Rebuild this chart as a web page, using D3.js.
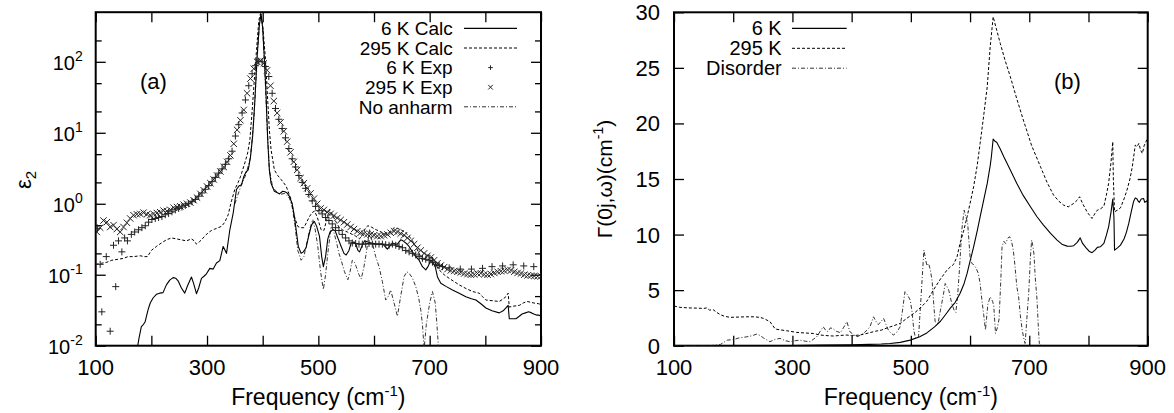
<!DOCTYPE html>
<html><head><meta charset="utf-8">
<script src="https://cdn.jsdelivr.net/npm/d3@7"></script>
<style>
body{margin:0;background:#fff}
text{font-family:"Liberation Sans",Arial,Helvetica,sans-serif;fill:#000}
</style>
</head><body>
<svg id="chart" width="1174" height="413"></svg>
<script>
// ---------- Panel (a): epsilon_2 ----------
const calc6K = [[175,0.0095],[178,0.013],[182,0.0186],[186,0.020],[189,0.022],[194,0.032],[198,0.040],[203,0.047],[209,0.053],[215,0.055],[221,0.056],[227,0.072],[233,0.084],[239,0.091],[244,0.089],[248,0.082],[254,0.065],[260,0.055],[265,0.07],[272,0.093],[276,0.075],[281,0.054],[285,0.065],[290,0.089],[295,0.096],[299,0.103],[305,0.123],[311,0.12],[317,0.146],[323,0.158],[329,0.25],[335,0.20],[341,0.43],[347,0.74],[353,1.6],[358,1.8],[362,1.86],[366,2.4],[370,2.8],[374,3.0],[378,4.5],[382,9],[386,29],[390,120],[394,330],[397,470],[400,300],[403,110],[406,35],[409,8],[412,3.0],[415,1.95],[421,1.5],[430,1.38],[436,1.5],[440,1.48],[444,1.42],[448,1.27],[453,1.0],[457,0.66],[461,0.38],[464,0.25],[469,0.20],[473,0.21],[478,0.24],[483,0.36],[487,0.48],[490,0.54],[493,0.56],[497,0.48],[502,0.35],[506,0.18],[509,0.13],[513,0.18],[517,0.32],[521,0.40],[526,0.43],[530,0.42],[535,0.33],[541,0.25],[546,0.20],[550,0.19],[555,0.22],[559,0.28],[564,0.29],[568,0.26],[571,0.22],[574,0.21],[578,0.25],[583,0.30],[589,0.29],[595,0.28],[605,0.27],[616,0.27],[624,0.23],[628,0.25],[633,0.28],[638,0.27],[642,0.27],[648,0.31],[652,0.30],[657,0.28],[663,0.25],[669,0.21],[675,0.18],[681,0.16],[687,0.13],[693,0.117],[697,0.13],[702,0.16],[706,0.15],[710,0.13],[714,0.093],[720,0.076],[730,0.068],[741,0.061],[753,0.055],[765,0.049],[775,0.046],[783,0.044],[792,0.039],[801,0.034],[812,0.031],[825,0.029],[832,0.031],[837,0.034],[841,0.037],[843,0.024],[849,0.024],[855,0.024],[861,0.026],[866,0.028],[872,0.029],[878,0.030],[883,0.029],[887,0.028],[892,0.027],[896,0.027],[900,0.026]];

const calc295K = [[100,0.14],[110,0.145],[120,0.15],[129,0.16],[140,0.165],[150,0.17],[158,0.18],[168,0.18],[180,0.185],[187,0.18],[193,0.18],[200,0.22],[209,0.25],[218,0.28],[227,0.31],[236,0.33],[245,0.32],[254,0.31],[263,0.30],[272,0.32],[277,0.30],[281,0.27],[286,0.29],[290,0.31],[296,0.35],[302,0.39],[308,0.42],[314,0.44],[320,0.46],[326,0.48],[332,0.55],[338,0.70],[344,1.1],[350,1.6],[356,2.0],[360,2.4],[364,3.0],[369,4.0],[373,5.2],[377,8],[381,20],[385,56],[389,150],[393,380],[396,480],[400,330],[405,110],[408,40],[412,11],[415,5.8],[421,3.0],[427,2.5],[433,2.2],[442,1.78],[447,1.4],[451,1.15],[457,0.66],[463,0.48],[468,0.46],[474,0.46],[479,0.55],[484,0.66],[489,0.75],[493,0.79],[498,0.65],[505,0.43],[510,0.42],[515,0.6],[520,0.83],[525,0.7],[532,0.55],[537,0.47],[543,0.43],[552,0.40],[561,0.37],[567,0.35],[574,0.32],[580,0.38],[585,0.46],[589,0.49],[595,0.47],[604,0.43],[613,0.40],[622,0.37],[628,0.40],[636,0.46],[642,0.45],[648,0.43],[655,0.40],[663,0.35],[669,0.30],[675,0.25],[681,0.20],[687,0.16],[693,0.17],[699,0.19],[704,0.18],[708,0.16],[712,0.135],[717,0.117],[726,0.10],[735,0.089],[744,0.080],[753,0.072],[765,0.064],[777,0.058],[789,0.055],[795,0.049],[801,0.044],[813,0.043],[825,0.042],[831,0.045],[837,0.049],[841,0.055],[843,0.035],[850,0.036],[861,0.037],[868,0.040],[875,0.042],[881,0.041],[887,0.040],[896,0.039],[900,0.038]];

const exp6K = [[103,0.45],[108,0.14],[111,0.030],[119,0.18],[126,0.016],[132,0.26],[136,0.068],[141,0.30],[147,0.21],[152,0.33],[157,0.30],[164,0.37],[170,0.40],[177,0.43],[183,0.46],[189,0.49],[195,0.55],[201,0.60],[207,0.62],[213,0.64],[219,0.66],[225,0.70],[231,0.73],[237,0.77],[243,0.82],[249,0.86],[255,0.90],[261,0.95],[267,1.0],[273,1.07],[279,1.15],[285,1.28],[291,1.42],[297,1.6],[303,1.8],[309,2.05],[315,2.35],[321,2.7],[327,3.1],[333,3.6],[339,4.3],[345,5.5],[351,9],[357,13],[363,19],[369,29],[375,46],[381,68],[387,88],[393,102],[399,100],[405,86],[411,62],[417,36],[423,22],[429,15.5],[435,11.5],[441,8.5],[447,6.0],[453,4.3],[459,3.3],[465,2.5],[471,2.0],[477,1.65],[483,1.35],[489,1.1],[495,0.92],[501,0.80],[507,0.72],[513,0.64],[519,0.58],[525,0.52],[531,0.46],[537,0.42],[543,0.37],[549,0.33],[555,0.30],[561,0.28],[567,0.275],[573,0.27],[579,0.27],[585,0.27],[591,0.275],[597,0.27],[603,0.27],[609,0.27],[615,0.27],[621,0.265],[627,0.26],[633,0.27],[639,0.26],[645,0.25],[651,0.24],[657,0.22],[663,0.21],[669,0.20],[675,0.19],[681,0.18],[687,0.17],[693,0.165],[699,0.16],[705,0.15],[711,0.14],[717,0.135],[723,0.13],[735,0.125],[755,0.12],[775,0.12],[795,0.123],[812,0.13],[831,0.133],[850,0.138],[869,0.133],[887,0.13]];

const exp295K = [[102,0.40],[108,0.46],[114,0.58],[120,0.55],[126,0.47],[132,0.50],[138,0.44],[144,0.40],[150,0.47],[156,0.54],[162,0.62],[168,0.69],[174,0.71],[180,0.72],[186,0.75],[192,0.71],[198,0.69],[204,0.72],[210,0.74],[216,0.76],[222,0.80],[228,0.79],[234,0.82],[240,0.88],[246,0.90],[252,0.92],[258,0.97],[264,1.00],[270,1.04],[276,1.12],[282,1.22],[288,1.38],[294,1.55],[300,1.75],[306,1.95],[312,2.2],[318,2.5],[324,2.85],[330,3.3],[336,3.9],[342,4.8],[348,7.0],[354,11],[360,15],[366,21],[372,36],[378,58],[384,80],[390,100],[396,104],[402,95],[408,76],[414,46],[420,28],[426,19],[432,14],[438,10.5],[444,7.5],[450,5.3],[456,3.9],[462,3.0],[468,2.3],[474,1.95],[480,1.65],[486,1.40],[492,1.18],[498,1.00],[504,0.86],[510,0.82],[516,0.76],[522,0.72],[528,0.68],[534,0.63],[540,0.59],[546,0.55],[552,0.51],[558,0.47],[564,0.44],[570,0.41],[576,0.39],[582,0.38],[588,0.37],[594,0.37],[600,0.36],[606,0.35],[612,0.35],[618,0.36],[624,0.37],[630,0.39],[636,0.41],[642,0.40],[648,0.38],[654,0.36],[660,0.33],[666,0.30],[672,0.27],[678,0.24],[684,0.22],[690,0.20],[696,0.185],[702,0.175],[708,0.16],[714,0.145],[720,0.135],[726,0.128],[732,0.12],[738,0.115],[744,0.113],[750,0.11],[756,0.108],[762,0.104],[768,0.102],[774,0.10],[780,0.101],[786,0.104],[792,0.105],[798,0.101],[804,0.10],[810,0.102],[816,0.106],[822,0.11],[828,0.112],[834,0.114],[840,0.117],[846,0.115],[852,0.11],[858,0.106],[864,0.104],[870,0.10],[876,0.098],[882,0.097],[888,0.096],[894,0.095],[900,0.095]];

const noAnharm = [[350,1.0],[360,1.7],[370,2.6],[378,4.5],[384,15],[390,110],[394,330],[397,470],[400,300],[404,70],[408,12],[412,3.0],[418,1.7],[430,1.35],[440,1.4],[448,1.2],[453,0.9],[458,0.5],[463,0.22],[469,0.16],[474,0.18],[480,0.30],[485,0.45],[490,0.60],[494,0.45],[499,0.25],[504,0.11],[509,0.062],[513,0.10],[517,0.20],[523,0.48],[527,0.42],[532,0.30],[537,0.20],[541,0.16],[547,0.11],[553,0.085],[557,0.11],[561,0.16],[565,0.15],[568,0.13],[573,0.10],[577,0.087],[582,0.13],[586,0.20],[592,0.43],[597,0.28],[603,0.18],[609,0.13],[615,0.08],[621,0.044],[626,0.05],[630,0.061],[636,0.04],[642,0.026],[647,0.045],[654,0.094],[659,0.11],[663,0.105],[669,0.09],[675,0.068],[680,0.048],[684,0.032],[687,0.02],[690,0.009],[694,0.02],[700,0.040],[705,0.058],[710,0.04],[713,0.02],[716,0.009],[720,0.005]];

// ---------- Panel (b): Gamma(0j,omega) ----------
const gamma6K = [[100,0],[200,0],[300,0.02],[350,0.05],[400,0.08],[430,0.12],[450,0.15],[465,0.2],[482,0.3],[499,0.5],[515,0.8],[527,1.15],[540,1.7],[550,2.2],[560,2.9],[567,3.4],[575,3.9],[583,4.7],[590,5.6],[595,6.5],[600,7.6],[606,8.9],[612,10.3],[617,11.6],[623,13.1],[629,14.6],[634,16.2],[636,17.0],[639,18.6],[642,18.4],[645,18.3],[651,17.7],[657,17.0],[668,15.8],[679,14.6],[690,13.5],[702,12.5],[713,11.6],[724,10.85],[736,10.1],[747,9.5],[756,9.1],[764,8.96],[770,8.95],[775,9.0],[781,9.3],[786,9.7],[790,9.2],[796,8.8],[801,8.5],[806,8.37],[811,8.6],[815,8.85],[820,8.9],[826,9.2],[830,9.9],[834,10.7],[838,12.0],[841,13.2],[843,11.5],[844,8.6],[849,8.8],[854,9.05],[860,9.6],[864,10.2],[868,11.0],[872,12.0],[876,12.95],[879,13.3],[882,13.2],[884,13.0],[886,12.9],[889,13.2],[893,13.25],[895,12.9],[898,13.0],[900,13.1]];

const gamma295K = [[100,3.57],[110,3.45],[125,3.4],[140,3.38],[150,3.35],[155,3.4],[160,3.2],[166,3.25],[172,3.0],[178,2.8],[185,2.65],[195,2.55],[210,2.58],[223,2.6],[235,2.6],[245,2.55],[251,2.46],[257,2.3],[262,2.16],[267,1.8],[271,1.5],[280,1.42],[290,1.35],[307,1.2],[320,1.15],[335,1.1],[347,0.96],[360,0.9],[369,0.87],[380,0.92],[392,0.96],[400,0.9],[414,0.96],[426,1.11],[440,1.3],[450,1.4],[460,1.6],[471,1.8],[482,2.0],[493,2.46],[505,2.9],[516,3.4],[527,4.0],[538,5.0],[550,6.0],[561,6.8],[567,7.1],[572,7.3],[578,8.0],[583,9.2],[589,10.3],[595,11.6],[600,12.8],[606,14.3],[612,16.2],[617,18.2],[623,20.7],[629,23.3],[634,26.9],[637,28.5],[639,29.6],[645,28.4],[651,27.2],[659,25.7],[668,24.2],[679,22.2],[690,20.3],[704,18.0],[719,16.1],[730,14.7],[741,13.55],[750,13.0],[758,12.65],[766,12.5],[775,12.8],[781,13.1],[785,13.4],[790,12.8],[798,12.0],[806,11.45],[811,11.9],[815,12.2],[820,12.3],[826,12.55],[830,13.5],[834,14.6],[838,16.5],[841,18.35],[842,15],[844,12.05],[849,12.2],[854,12.4],[860,13.2],[865,14.0],[870,15.0],[874,16.1],[879,18.05],[882,17.9],[885,18.2],[888,17.6],[891,17.3],[894,18.0],[897,18.35],[900,18.7]];

const disorder = [[100,0],[160,0],[178,0.1],[190,0.5],[200,0.55],[210,0.7],[223,0.8],[232,0.9],[240,1.05],[246,0.9],[251,0.7],[262,0.36],[270,0.55],[279,0.66],[288,0.45],[296,0.36],[305,0.45],[313,0.5],[322,0.4],[330,0.36],[336,0.6],[341,0.8],[347,1.3],[352,1.7],[356,1.4],[360,1.26],[364,1.6],[368,1.55],[374,1.3],[381,1.17],[386,1.6],[392,2.16],[397,1.26],[403,1.0],[409,0.8],[415,0.95],[420,1.11],[426,1.4],[431,1.71],[437,2.6],[441,2.2],[445,1.9],[450,2.2],[454,2.46],[458,1.9],[462,1.41],[467,1.1],[471,0.96],[476,1.2],[482,1.71],[486,3.2],[490,4.86],[494,4.6],[499,4.1],[502,3.06],[505,1.4],[508,0.66],[513,0.8],[517,4.2],[522,8.6],[527,7.2],[530,7.4],[533,6.8],[536,5.8],[539,3.5],[541,2.16],[546,2.0],[550,3.2],[555,4.6],[558,5.6],[561,5.3],[564,5.0],[567,4.3],[569,3.8],[573,3.2],[576,3.0],[579,4.5],[582,6.8],[586,10.4],[590,12.2],[593,11.6],[596,11.0],[600,8.0],[603,7.4],[606,7.3],[610,7.0],[614,6.5],[617,5.6],[620,4.1],[623,2.8],[626,1.41],[630,3.7],[634,4.4],[638,4.0],[640,3.6],[643,1.11],[646,1.6],[649,2.4],[652,6.0],[654,8.9],[657,9.4],[660,9.2],[664,9.7],[667,9.8],[670,9.4],[673,8.6],[676,7.1],[679,5.3],[682,4.4],[685,2.7],[688,1.41],[691,0.6],[693,0.2],[696,2.5],[699,4.7],[702,8.0],[704,9.5],[706,9.0],[708,8.2],[710,6.2],[713,4.2],[715,2.0],[717,0.2],[720,0]];

const xTicks = [100,200,300,400,500,600,700,800,900];
const xTickLabels = [100,300,500,700,900];
const yLogMajor = [0.01,0.1,1,10,100];
const yLogExp = ["-2","-1","0","1","2"];
const yLogMinor = [0.02,0.05,0.2,0.5,2,5,20,50,200];
const yRTicks = [0,5,10,15,20,25,30];
const legendA = ["6 K Calc","295 K Calc","6 K Exp","295 K Exp","No anharm"];
const legendB = ["6 K","295 K","Disorder"];

// ---------- drawing ----------
const svg = d3.select("#chart");
const FS = 22;
const LFS = 19;
const A = {l:95.7, r:541, t:12.2, b:345.7};
const B = {l:674, r:1147.7, t:12.3, b:345.7};

const xA = d3.scaleLinear().domain([100,900]).range([A.l,A.r]);
const yA = d3.scaleLog().domain([0.01,500]).range([A.b,A.t]);
const xB = d3.scaleLinear().domain([100,900]).range([B.l,B.r]);
const yB = d3.scaleLinear().domain([0,30]).range([B.b,B.t]);

const defs = svg.append("defs");
defs.append("clipPath").attr("id","clipA").append("rect")
  .attr("x",A.l).attr("y",A.t).attr("width",A.r-A.l).attr("height",A.b-A.t);
defs.append("clipPath").attr("id","clipB").append("rect")
  .attr("x",B.l).attr("y",B.t).attr("width",B.r-B.l).attr("height",B.b-B.t);

const styles = {
  solid: {dash:null, color:"#000", w:1.1},
  dashed: {dash:"3,2", color:"#000", w:1},
  dashdot: {dash:"4,2,1,2", color:"#333", w:1}
};

function drawAxes(P, x, y, isLog){
  const g = svg.append("g");
  g.append("g").attr("transform",`translate(0,${P.b})`)
    .call(d3.axisBottom(x).tickValues(xTicks).tickSize(-10).tickFormat(""))
    .call(s=>{s.select(".domain").remove(); s.selectAll("line").attr("stroke","#000").attr("stroke-width",1.3);});
  g.append("g").attr("transform",`translate(0,${P.t})`)
    .call(d3.axisTop(x).tickValues(xTicks).tickSize(-10).tickFormat(""))
    .call(s=>{s.select(".domain").remove(); s.selectAll("line").attr("stroke","#000").attr("stroke-width",1.3);});
  g.selectAll(".xlab").data(xTickLabels).join("text")
    .attr("x",d=>x(d)).attr("y",P.b+29.5).attr("text-anchor","middle")
    .attr("font-size",FS).text(d=>d);
  const majors = isLog ? yLogMajor : yRTicks;
  [["L",P.l],["R",P.r]].forEach(([side,pos])=>{
    const ax = side==="L" ? d3.axisLeft(y) : d3.axisRight(y);
    g.append("g").attr("transform",`translate(${pos},0)`)
      .call(ax.tickValues(majors).tickSize(-10).tickFormat(""))
      .call(s=>{s.select(".domain").remove(); s.selectAll("line").attr("stroke","#000").attr("stroke-width",1.3);});
    if(isLog){
      const ax2 = side==="L" ? d3.axisLeft(y) : d3.axisRight(y);
      g.append("g").attr("transform",`translate(${pos},0)`)
        .call(ax2.tickValues(yLogMinor).tickSize(-6).tickFormat(""))
        .call(s=>{s.select(".domain").remove(); s.selectAll("line").attr("stroke","#000").attr("stroke-width",1.3);});
    }
  });
  if(isLog){
    yLogMajor.forEach((d,i)=>{
      const t = g.append("text").attr("x",P.l-13).attr("y",y(d)+8).attr("text-anchor","end").attr("font-size",20);
      t.append("tspan").text("10");
      t.append("tspan").attr("font-size",14).attr("dy",-9).text(yLogExp[i]);
    });
  } else {
    g.selectAll(".ylab").data(yRTicks).join("text")
      .attr("x",P.l-14).attr("y",d=>y(d)+8).attr("text-anchor","end")
      .attr("font-size",FS).text(d=>d);
  }
  g.append("rect").attr("x",P.l).attr("y",P.t).attr("width",P.r-P.l).attr("height",P.b-P.t)
    .attr("fill","none").attr("stroke","#000").attr("stroke-width",2);
  const xl = g.append("text").attr("x",(P.l+P.r)/2).attr("y",405).attr("text-anchor","middle").attr("font-size",23);
  xl.append("tspan").text("Frequency (cm");
  xl.append("tspan").attr("font-size",15).attr("dy",-9).text("-1");
  xl.append("tspan").attr("dy",9).text(")");
}

function drawLine(data, x, y, st, clip){
  svg.append("path").datum(data)
    .attr("clip-path",`url(#${clip})`)
    .attr("fill","none").attr("stroke",st.color).attr("stroke-width",st.w)
    .attr("stroke-dasharray",st.dash).attr("stroke-linejoin","round")
    .attr("d",d3.line().x(d=>x(d[0])).y(d=>y(d[1])));
}
const plusPath = r => `M${-r},0H${r}M0,${-r}V${r}`;
const crossPath = r => `M${-r},${-r}L${r},${r}M${-r},${r}L${r},${-r}`;
function drawPoints(data, x, y, pathFn, r, clip){
  svg.append("g").attr("clip-path",`url(#${clip})`)
    .selectAll("path").data(data).join("path")
    .attr("transform",d=>`translate(${x(d[0])},${y(d[1])})`)
    .attr("d",pathFn(r)).attr("stroke","#222").attr("stroke-width",1).attr("fill","none");
}

drawAxes(A, xA, yA, true);
drawAxes(B, xB, yB, false);

drawLine(noAnharm, xA, yA, styles.dashdot, "clipA");
drawLine(calc295K, xA, yA, styles.dashed, "clipA");
drawLine(calc6K, xA, yA, styles.solid, "clipA");
drawPoints(exp6K, xA, yA, plusPath, 3.5, "clipA");
drawPoints(exp295K, xA, yA, crossPath, 3.2, "clipA");

drawLine(disorder, xB, yB, styles.dashdot, "clipB");
drawLine(gamma295K, xB, yB, styles.dashed, "clipB");
drawLine(gamma6K, xB, yB, styles.solid, "clipB");

const legAStyles = [["line",styles.solid],["line",styles.dashed],["plus"],["cross"],["line",styles.dashdot]];
legendA.forEach((lab,i)=>{
  const cy = 28.4 + i*19.6;
  svg.append("text").attr("x",452.7).attr("y",cy+6.8).attr("text-anchor","end").attr("font-size",LFS).text(lab);
  const s = legAStyles[i];
  if(s[0]==="line"){
    svg.append("line").attr("x1",464).attr("x2",517).attr("y1",cy).attr("y2",cy)
      .attr("stroke",s[1].color).attr("stroke-width",s[1].w).attr("stroke-dasharray",s[1].dash);
  } else {
    svg.append("path").attr("transform",`translate(490.5,${cy})`)
      .attr("d",(s[0]==="plus"?plusPath:crossPath)(2.3)).attr("stroke","#222").attr("fill","none");
  }
});
const legBStyles = [styles.solid, styles.dashed, styles.dashdot];
legendB.forEach((lab,i)=>{
  const cy = 28.4 + i*19.9;
  svg.append("text").attr("x",781.7).attr("y",cy+6.8).attr("text-anchor","end").attr("font-size",LFS+1).text(lab);
  const st = legBStyles[i];
  svg.append("line").attr("x1",792).attr("x2",846.7).attr("y1",cy).attr("y2",cy)
    .attr("stroke",st.color).attr("stroke-width",st.w).attr("stroke-dasharray",st.dash);
});

svg.append("text").attr("x",153.5).attr("y",89).attr("text-anchor","middle").attr("font-size",FS).text("(a)");
svg.append("text").attr("x",1067.5).attr("y",89).attr("text-anchor","middle").attr("font-size",FS).text("(b)");

const yt1 = svg.append("text").attr("transform","translate(31,180) rotate(-90)").attr("text-anchor","middle").attr("font-size",FS);
yt1.append("tspan").text("ε");
yt1.append("tspan").attr("font-size",15).attr("dy",5).text("2");
const yt2 = svg.append("text").attr("transform","translate(612,179) rotate(-90)").attr("text-anchor","middle").attr("font-size",21);
yt2.append("tspan").text("Γ(0j,ω)(cm");
yt2.append("tspan").attr("font-size",14).attr("dy",-9).text("-1");
yt2.append("tspan").attr("dy",9).text(")");
</script>
</body></html>
